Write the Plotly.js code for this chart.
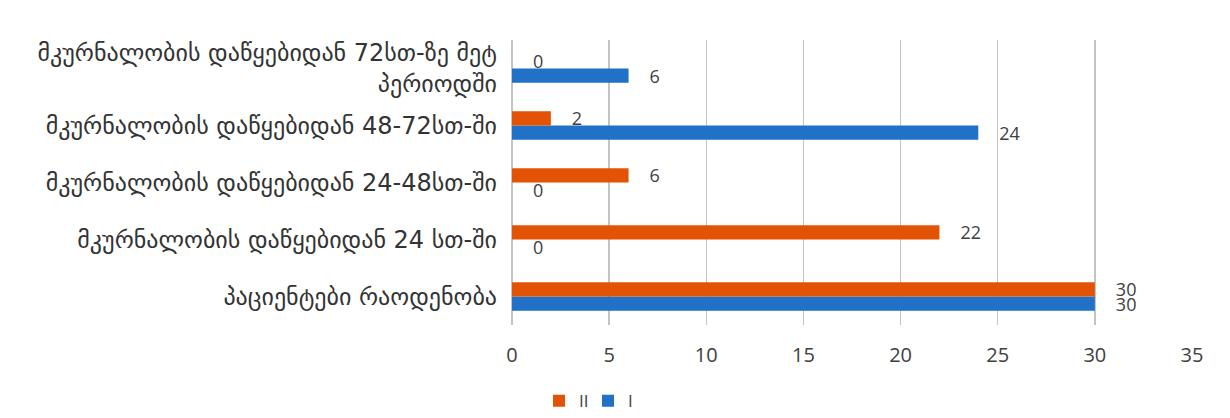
<!DOCTYPE html>
<html>
<head>
<meta charset="utf-8">
<script src="https://cdn.plot.ly/plotly-3.0.1.min.js"></script>
<style>html,body{margin:0;padding:0;background:#fff;}#chart{width:1230px;height:418px;}</style>
</head>
<body>
<div id="chart"></div>
<script>
const categories = [
  "პაციენტები რაოდენობა",
  "მკურნალობის დაწყებიდან 24 სთ-ში",
  "მკურნალობის დაწყებიდან 24-48სთ-ში",
  "მკურნალობის დაწყებიდან 48-72სთ-ში",
  "მკურნალობის დაწყებიდან 72სთ-ზე მეტ<br>პერიოდში"
];
const seriesI = [30, 0, 0, 24, 6];
const seriesII = [30, 22, 6, 2, 0];
const xTicks = [0, 5, 10, 15, 20, 25, 30, 35];

const font = "DejaVu Sans, Noto Sans, sans-serif";
const numFont = "Open Sans, sans-serif";
const lbl = v => '\u2002\u2002' + v;
const traces = [
  {type:'bar', orientation:'h', name:'I', y:categories, x:seriesI, legend:'legend2',
   marker:{color:'#2171C7'}, text:seriesI.map(lbl), textposition:'outside', constraintext:'none',
   textfont:{size:18, color:'#404040', family:numFont}, cliponaxis:false},
  {type:'bar', orientation:'h', name:'II', y:categories, x:seriesII, legend:'legend',
   marker:{color:'#E35306'}, text:seriesII.map(lbl), textposition:'outside', constraintext:'none',
   textfont:{size:18, color:'#404040', family:numFont}, cliponaxis:false}
];
const legendBase = {orientation:'h', xanchor:'left', xref:'container', yref:'container',
  y:0.04, yanchor:'middle', bgcolor:'rgba(0,0,0,0)',
  font:{size:17, color:'#404040', family:numFont}};
const layout = {
  width:1230, height:418,
  margin:{l:512, r:38, t:40, b:93},
  paper_bgcolor:'#fff', plot_bgcolor:'#fff',
  barmode:'group', bargap:0.5, bargroupgap:0,
  showlegend:true,
  legend:Object.assign({}, legendBase, {x:539/1230}),
  legend2:Object.assign({}, legendBase, {x:588/1230}),
  xaxis:{range:[0,35], tickvals:xTicks, ticktext:xTicks.map(String), showgrid:true,
         gridcolor:'#c4c4c4', gridwidth:1.5, zeroline:true, zerolinecolor:'#c4c4c4', zerolinewidth:1.5,
         showline:false, ticks:'outside', ticklen:12, tickcolor:'rgba(0,0,0,0)',
         tickfont:{size:20, color:'#404040', family:numFont}, fixedrange:true, automargin:false},
  yaxis:{type:'category', showgrid:false, zeroline:false, showline:false, ticks:'',
         tickfont:{size:24, color:'#333', family:font}, ticklabelstandoff:14, fixedrange:true, automargin:false}
};
Plotly.newPlot('chart', traces, layout, {displayModeBar:false, staticPlot:true});
</script>
</body>
</html>
